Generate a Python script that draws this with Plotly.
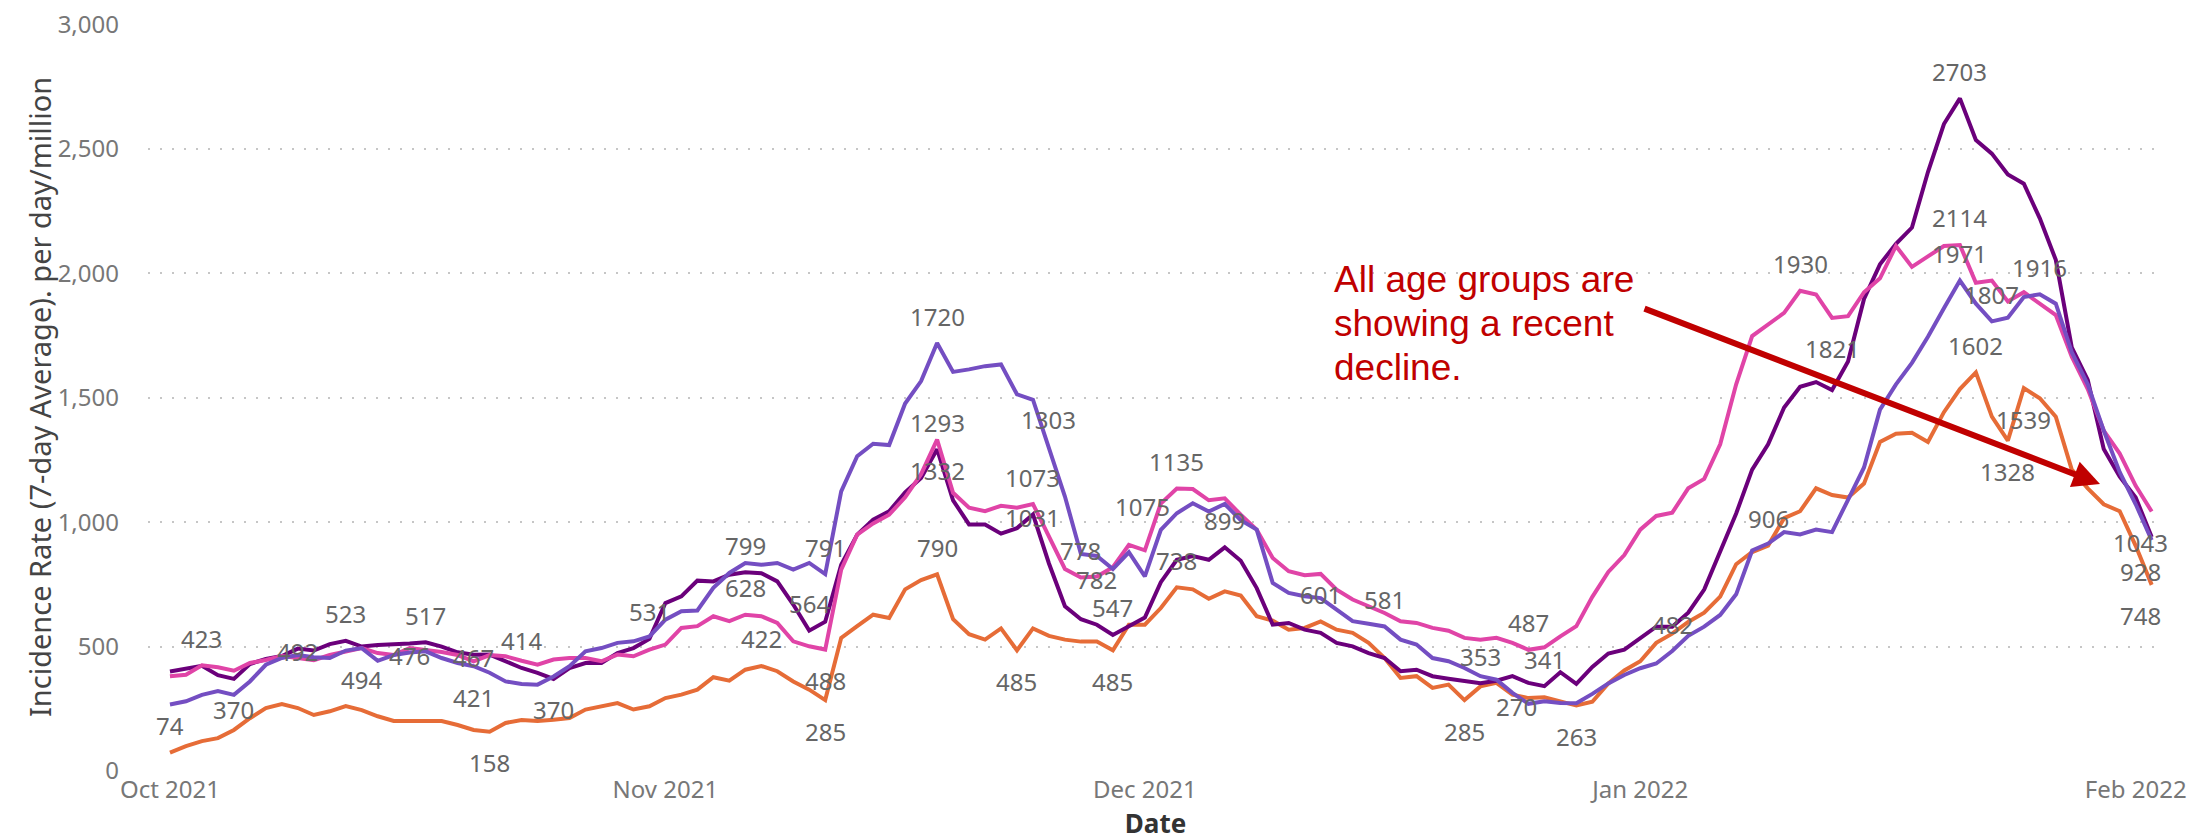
import pandas as pd
import plotly.graph_objects as go

# ---------------- data ----------------
start_date = "2021-10-01"
n_days = 125

dark_purple = [
    400, 412, 423, 385, 370, 430, 450, 462, 492, 484,
    510, 523, 500, 506, 507, 512, 517, 500, 477, 467,
    468, 440, 414, 394, 370, 414, 434, 434, 474, 494,
    531, 675, 702, 765, 762, 789, 799, 795, 762, 669,
    564, 600, 829, 950, 1010, 1044, 1120, 1178, 1293, 1088,
    991, 991, 954, 976, 1031, 834, 662, 610, 588, 547,
    580, 617, 759, 849, 864, 849, 899, 845, 735, 588,
    595, 568, 555, 515, 501, 474, 454, 401, 407, 381,
    371, 364, 353, 363, 381, 354, 341, 397, 350, 418,
    472, 488, 534, 580, 580, 636, 729, 886, 1035, 1211,
    1313, 1461, 1544, 1563, 1531, 1646, 1897, 2036, 2119, 2184,
    2407, 2600, 2703, 2536, 2481, 2397, 2360, 2221, 2054, 1702,
    1572, 1294, 1183, 1099, 940,
]

pink = [
    381, 387, 425, 417, 403, 434, 446, 462, 454, 445,
    466, 481, 494, 474, 466, 494, 487, 478, 466, 441,
    466, 461, 443, 427, 448, 454, 454, 441, 468, 461,
    488, 508, 575, 582, 622, 602, 628, 622, 595, 521,
    501, 488, 809, 950, 995, 1030, 1100, 1193, 1332, 1118,
    1058, 1044, 1066, 1058, 1073, 946, 812, 778, 782, 819,
    909, 887, 1075, 1135, 1133, 1088, 1096, 1030, 970, 856,
    803, 787, 792, 729, 689, 662, 635, 602, 595, 575,
    564, 535, 528, 535, 515, 487, 497, 541, 582, 700,
    800, 868, 970, 1025, 1038, 1136, 1174, 1313, 1554, 1748,
    1795, 1841, 1930, 1915, 1821, 1828, 1924, 1980, 2110, 2026,
    2068, 2110, 2114, 1962, 1971, 1887, 1924, 1878, 1832, 1665,
    1535, 1368, 1276, 1146, 1043,
]

violet = [
    267, 280, 306, 321, 306, 360, 427, 454, 466, 457,
    454, 484, 494, 443, 466, 476, 481, 454, 434, 421,
    395, 360, 350, 347, 380, 421, 481, 494, 515, 521,
    541, 608, 642, 645, 736, 796, 836, 829, 836, 809,
    836, 791, 1124, 1265, 1315, 1310, 1477, 1567, 1720, 1604,
    1614, 1627, 1634, 1514, 1492, 1303, 1103, 872, 864, 812,
    879, 782, 969, 1036, 1076, 1043, 1073, 1008, 970, 756,
    716, 702, 695, 649, 602, 592, 581, 528, 508, 454,
    441, 414, 381, 367, 314, 270, 280, 273, 272, 310,
    352, 386, 413, 432, 482, 543, 580, 627, 710, 886,
    914, 960, 951, 970, 960, 1090, 1220, 1452, 1554, 1640,
    1745, 1860, 1971, 1878, 1807, 1822, 1905, 1916, 1878, 1683,
    1554, 1368, 1201, 1072, 928,
]

orange = [
    74, 100, 120, 132, 165, 212, 253, 269, 253, 225,
    240, 261, 245, 220, 201, 201, 201, 201, 185, 165,
    158, 193, 205, 201, 206, 213, 247, 260, 273, 247,
    260, 293, 307, 327, 377, 363, 407, 422, 401, 360,
    327, 285, 535, 582, 628, 615, 730, 767, 790, 610,
    550, 528, 573, 485, 573, 543, 528, 520, 520, 485,
    588, 588, 655, 738, 730, 692, 722, 705, 622, 604,
    568, 575, 601, 568, 555, 515, 454, 374, 381, 334,
    347, 285, 340, 354, 307, 293, 296, 280, 263, 278,
    352, 404, 441, 515, 552, 599, 636, 701, 831, 880,
    906, 1016, 1044, 1136, 1109, 1099, 1155, 1322, 1355, 1359,
    1322, 1442, 1535, 1602, 1424, 1328, 1539, 1498, 1424, 1211,
    1136, 1072, 1044, 905, 748,
]

y_ticks = [0, 500, 1000, 1500, 2000, 2500, 3000]
x_tick_dates = ["2021-10-01", "2021-11-01", "2021-12-01", "2022-01-01", "2022-02-01"]
x_tick_text = ["Oct 2021", "Nov 2021", "Dec 2021", "Jan 2022", "Feb 2022"]

y_title = "Incidence Rate (7-day Average). per day/million"
x_title = "Date"
callout_lines = ["All age groups are", "showing a recent", "decline."]

# ---------------- styles ----------------
dates = pd.date_range(start_date, periods=n_days, freq="D")

series = {
    "orange": (orange, "#E66C37"),
    "dark_purple": (dark_purple, "#6B007B"),
    "pink": (pink, "#E044A7"),
    "violet": (violet, "#744EC2"),
}

# which points carry a data label, and where the label sits (style only)
label_spec = {
    "dark_purple": [(2, "t"), (4, "b"), (8, "c"), (11, "t"), (16, "t"), (19, "c"), (22, "t"),
                    (24, "b"), (30, "t"), (36, "t"), (40, "t"), (48, "t"), (54, "c"), (59, "t"),
                    (66, "t"), (82, "t"), (86, "t"), (112, "t")],
    "pink": [(36, "t"), (41, "b"), (48, "b"), (54, "t"), (57, "t"), (58, "c"), (62, "c", -18),
             (63, "t"), (85, "t"), (102, "t"), (104, "b"), (112, "t"), (124, "b", -11)],
    "violet": [(12, "b"), (15, "c"), (19, "b"), (41, "t"), (48, "t"), (55, "t"), (76, "t"),
               (85, "c", -12), (94, "t"), (112, "t"), (114, "t"), (117, "t"), (124, "b", -11)],
    "orange": [(0, "t"), (20, "b"), (37, "t"), (41, "b"), (48, "t"), (53, "b"), (59, "b"),
               (63, "t"), (72, "t"), (81, "b"), (88, "b"), (100, "t"), (113, "t"),
               (115, "b"), (116, "b"), (124, "b", -11)],
}
yshift_map = {"t": 27, "b": -31, "c": -3}

fig = go.Figure()
for name, (vals, color) in series.items():
    fig.add_trace(go.Scatter(
        x=dates, y=vals, mode="lines", name=name,
        line=dict(color=color, width=4),
    ))

label_font = dict(family="Noto Sans", size=24, color="#666666")
for name, specs in label_spec.items():
    vals = series[name][0]
    for spec in specs:
        idx, pos = spec[0], spec[1]
        xs = spec[2] if len(spec) > 2 else 0
        fig.add_annotation(
            x=dates[idx].strftime("%Y-%m-%d"), y=vals[idx], xref="x", yref="y",
            text=f"{vals[idx]}", showarrow=False,
            yshift=yshift_map[pos], xshift=xs, font=label_font,
        )

# plot-area geometry in pixels
L, R, T, B = 140, 49, 16, 76
W, H = 2204, 839
pw, ph = W - L - R, H - T - B


def px_to_paper(px, py):
    return (px - L) / pw, (H - B - py) / ph


for line_text, cy in zip(callout_lines, [271, 315, 359]):
    xp, yp = px_to_paper(1324, cy)
    fig.add_annotation(
        x=xp, y=yp, xref="paper", yref="paper", text=line_text, showarrow=False,
        xanchor="left", yanchor="middle",
        font=dict(family="Liberation Sans", size=37, color="#C00000"),
    )

hx, hy = px_to_paper(2092, 476)
fig.add_annotation(
    x=hx, y=hy, xref="paper", yref="paper", text="", showarrow=True,
    ax=1635 - 2092, ay=300 - 476, axref="pixel", ayref="pixel",
    arrowhead=2, arrowsize=0.9, arrowwidth=6, arrowcolor="#C00000", standoff=0,
)

# y-axis title
tx, ty = px_to_paper(31, 389)
fig.add_annotation(
    x=tx, y=ty, xref="paper", yref="paper", text=y_title, showarrow=False,
    textangle=-90, xanchor="center", yanchor="middle",
    font=dict(family="Noto Sans", size=29, color="#444444"),
)

fig.update_layout(
    width=W, height=H,
    margin=dict(l=L, r=R, t=T, b=B, autoexpand=False),
    paper_bgcolor="white", plot_bgcolor="white",
    showlegend=False,
    font=dict(family="Noto Sans", color="#777777"),
    xaxis=dict(
        type="date",
        range=["2021-09-29 15:00", "2022-02-02 17:00"],
        tickvals=x_tick_dates, ticktext=x_tick_text,
        showgrid=False, zeroline=False, showline=False, ticks="",
        tickfont=dict(family="Noto Sans", size=24, color="#777777"),
        ticklabelstandoff=2,
        title=dict(text=x_title, standoff=10,
                   font=dict(family="Noto Sans", size=26, color="#333333", weight=700)),
        automargin=False,
    ),
    yaxis=dict(
        range=[0, 3002], tickvals=y_ticks, tickformat=",",
        showgrid=True, gridcolor="#C6C6C6", gridwidth=1.5, griddash="2px,10px",
        zeroline=False, showline=False, ticks="",
        tickfont=dict(family="Noto Sans", size=24, color="#777777"),
        ticklabelstandoff=28, ticklabeloverflow="allow",
        automargin=False,
    ),
)

fig.write_html("out.html")
